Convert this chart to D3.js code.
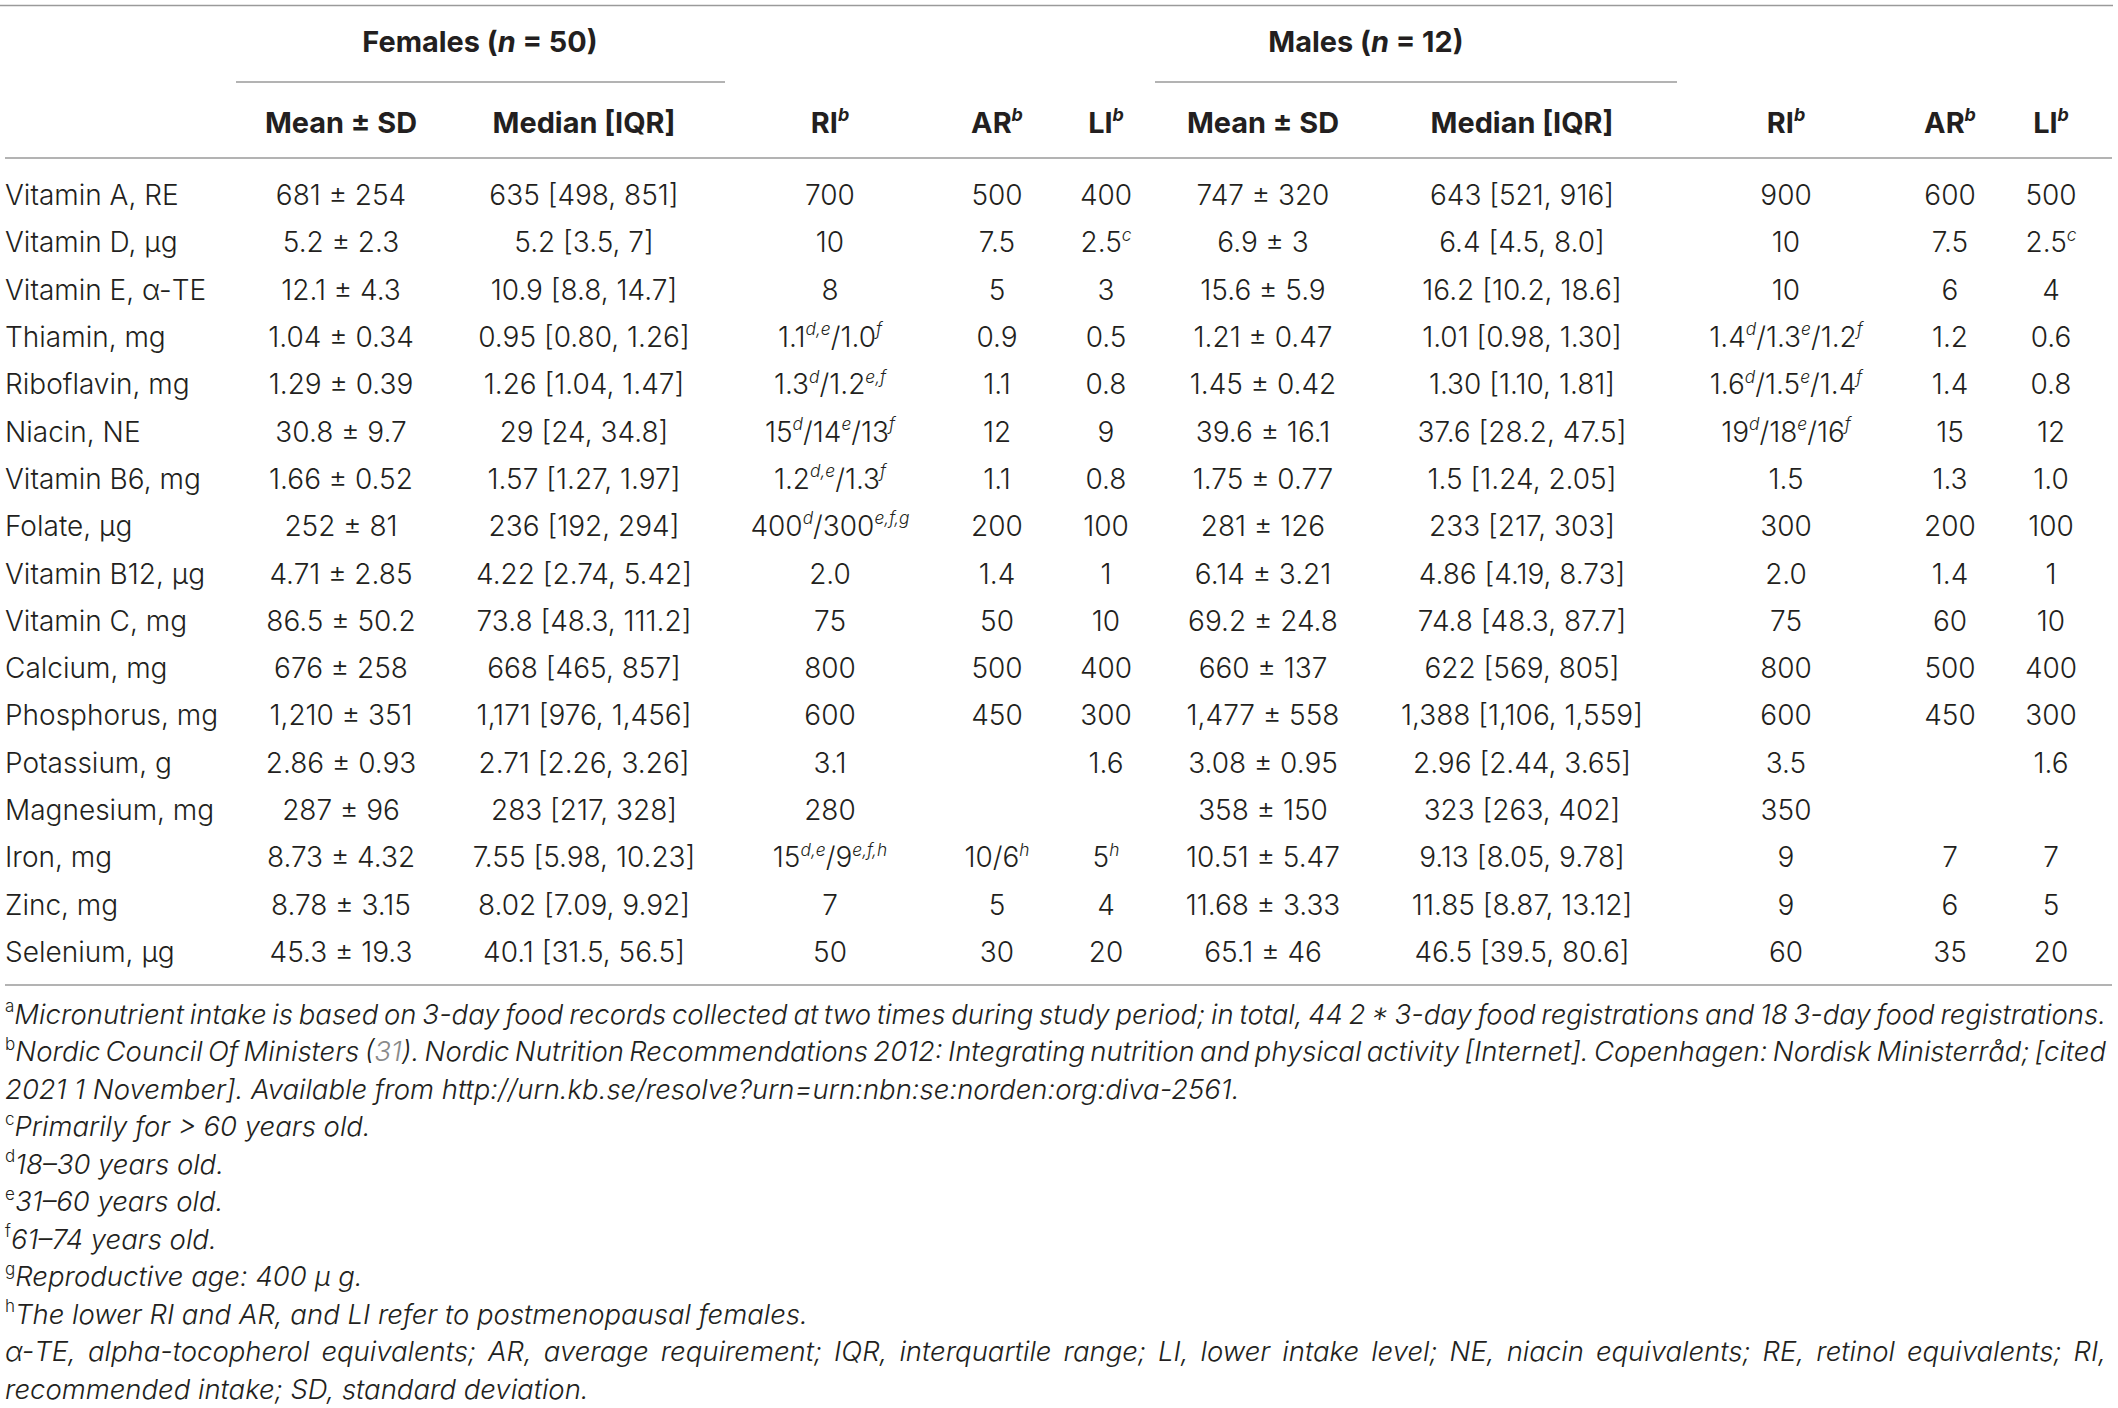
<!DOCTYPE html>
<html><head><meta charset="utf-8">
<script src="https://cdn.jsdelivr.net/npm/d3@7"></script>
<style>
html,body{margin:0;padding:0;background:#fff;}
svg{display:block;}
</style>
</head><body>
<svg id="chart" width="2118" height="1408"></svg>
<script>
// ---------- DATA ----------
const groups = ["Females (^n = 50)", "Males (^n = 12)"];
const columnHeaders = ["Mean ± SD", "Median [IQR]", "RI^{b}", "AR^{b}", "LI^{b}", "Mean ± SD", "Median [IQR]", "RI^{b}", "AR^{b}", "LI^{b}"];
const nutrients = ["Vitamin A, RE","Vitamin D, μg","Vitamin E, α-TE","Thiamin, mg","Riboflavin, mg","Niacin, NE","Vitamin B6, mg","Folate, μg","Vitamin B12, μg","Vitamin C, mg","Calcium, mg","Phosphorus, mg","Potassium, g","Magnesium, mg","Iron, mg","Zinc, mg","Selenium, μg"];
const femaleMean = ["681 ± 254","5.2 ± 2.3","12.1 ± 4.3","1.04 ± 0.34","1.29 ± 0.39","30.8 ± 9.7","1.66 ± 0.52","252 ± 81","4.71 ± 2.85","86.5 ± 50.2","676 ± 258","1,210 ± 351","2.86 ± 0.93","287 ± 96","8.73 ± 4.32","8.78 ± 3.15","45.3 ± 19.3"];
const femaleMedian = ["635 [498, 851]","5.2 [3.5, 7]","10.9 [8.8, 14.7]","0.95 [0.80, 1.26]","1.26 [1.04, 1.47]","29 [24, 34.8]","1.57 [1.27, 1.97]","236 [192, 294]","4.22 [2.74, 5.42]","73.8 [48.3, 111.2]","668 [465, 857]","1,171 [976, 1,456]","2.71 [2.26, 3.26]","283 [217, 328]","7.55 [5.98, 10.23]","8.02 [7.09, 9.92]","40.1 [31.5, 56.5]"];
const femaleRI = ["700","10","8","1.1^{d,e}/1.0^{f}","1.3^{d}/1.2^{e,f}","15^{d}/14^{e}/13^{f}","1.2^{d,e}/1.3^{f}","400^{d}/300^{e,f,g}","2.0","75","800","600","3.1","280","15^{d,e}/9^{e,f,h}","7","50"];
const femaleAR = ["500","7.5","5","0.9","1.1","12","1.1","200","1.4","50","500","450","","","10/6^{h}","5","30"];
const femaleLI = ["400","2.5^{c}","3","0.5","0.8","9","0.8","100","1","10","400","300","1.6","","5^{h}","4","20"];
const maleMean = ["747 ± 320","6.9 ± 3","15.6 ± 5.9","1.21 ± 0.47","1.45 ± 0.42","39.6 ± 16.1","1.75 ± 0.77","281 ± 126","6.14 ± 3.21","69.2 ± 24.8","660 ± 137","1,477 ± 558","3.08 ± 0.95","358 ± 150","10.51 ± 5.47","11.68 ± 3.33","65.1 ± 46"];
const maleMedian = ["643 [521, 916]","6.4 [4.5, 8.0]","16.2 [10.2, 18.6]","1.01 [0.98, 1.30]","1.30 [1.10, 1.81]","37.6 [28.2, 47.5]","1.5 [1.24, 2.05]","233 [217, 303]","4.86 [4.19, 8.73]","74.8 [48.3, 87.7]","622 [569, 805]","1,388 [1,106, 1,559]","2.96 [2.44, 3.65]","323 [263, 402]","9.13 [8.05, 9.78]","11.85 [8.87, 13.12]","46.5 [39.5, 80.6]"];
const maleRI = ["900","10","10","1.4^{d}/1.3^{e}/1.2^{f}","1.6^{d}/1.5^{e}/1.4^{f}","19^{d}/18^{e}/16^{f}","1.5","300","2.0","75","800","600","3.5","350","9","9","60"];
const maleAR = ["600","7.5","6","1.2","1.4","15","1.3","200","1.4","60","500","450","","","7","6","35"];
const maleLI = ["500","2.5^{c}","4","0.6","0.8","12","1.0","100","1","10","400","300","1.6","","7","5","20"];
const footMarks = ["a","b","","c","d","e","f","g","h","",""];
const footTexts = [
  "Micronutrient intake is based on 3-day food records collected at two times during study period; in total, 44 2 * 3-day food registrations and 18 3-day food registrations.",
  "Nordic Council Of Ministers (~{31}). Nordic Nutrition Recommendations 2012: Integrating nutrition and physical activity [Internet]. Copenhagen: Nordisk Ministerråd; [cited",
  "2021 1 November]. Available from http://urn.kb.se/resolve?urn=urn:nbn:se:norden:org:diva-2561.",
  "Primarily for > 60 years old.",
  "18–30 years old.",
  "31–60 years old.",
  "61–74 years old.",
  "Reproductive age: 400 μ g.",
  "The lower RI and AR, and LI refer to postmenopausal females.",
  "α-TE, alpha-tocopherol equivalents; AR, average requirement; IQR, interquartile range; LI, lower intake level; NE, niacin equivalents; RE, retinol equivalents; RI,",
  "recommended intake; SD, standard deviation."
];
const footJustify = [true,true,false,false,false,false,false,false,false,true,false];

// ---------- LAYOUT ----------
const W = 2118, H = 1408;
const FONT = "Inter, Roboto, 'Liberation Sans', Arial, sans-serif";
const INK = "#231f20";
const RULE = "#9a9a9a";
const bodySize = 28, footSize = 27.5, supScale = 0.62;

const columns = [femaleMean, femaleMedian, femaleRI, femaleAR, femaleLI, maleMean, maleMedian, maleRI, maleAR, maleLI];
const colIdx = d3.range(columns.length);
const xCol = d3.scaleOrdinal(colIdx, [341, 584, 830, 997, 1106, 1263, 1522, 1786, 1950, 2051]);
const y = d3.scaleBand(nutrients, [171.4, 975.5]);
const yFoot = d3.scalePoint(d3.range(footTexts.length), [1014, 1389]);
const groupSpan = [[236, 725], [1155, 1677]];
const groupLabelX = [480, 1366];

const svg = d3.select("#chart");
svg.append("rect").attr("width", W).attr("height", H).attr("fill", "#fff");

// rich text: ^{sup} italic superscript, ^x italic single char, ~{..} grey link
function rich(textSel, str, size, opts = {}) {
  const re = /\^\{([^}]*)\}|~\{([^}]*)\}|\^([A-Za-z])/g;
  let last = 0, m, raised = false;
  const add = (t, kind) => {
    if (!t) return;
    const ts = textSel.append("tspan").text(t);
    if (kind === "sup") {
      ts.attr("font-size", size * supScale).attr("font-style", opts.supUpright ? "normal" : "italic")
        .attr("dy", raised ? 0 : -size * 0.42);
      raised = true;
    } else {
      if (raised) { ts.attr("dy", size * 0.42); raised = false; }
      if (kind === "ital") ts.attr("font-style", "italic");
      if (kind === "link") ts.attr("fill", "#8a8a8a");
    }
  };
  while ((m = re.exec(str)) !== null) {
    add(str.slice(last, m.index), "norm");
    if (m[1] !== undefined) add(m[1], "sup");
    else if (m[2] !== undefined) add(m[2], "link");
    else add(m[3], "ital");
    last = re.lastIndex;
  }
  add(str.slice(last), "norm");
}

const g = svg.append("g").attr("font-family", FONT).attr("fill", INK);

// rules
const lines = [
  [0, W - 5, 5.5], [5, W - 6, 158], [5, W - 6, 985],
  [groupSpan[0][0], groupSpan[0][1], 82], [groupSpan[1][0], groupSpan[1][1], 82]
];
svg.selectAll("line.rule").data(lines).join("line").attr("class", "rule")
  .attr("x1", d => d[0]).attr("x2", d => d[1]).attr("y1", d => d[2]).attr("y2", d => d[2])
  .attr("stroke", RULE).attr("stroke-width", 1.6);

// header size fitted so "Median [IQR]" spans ~183px as in the reference
const probe = g.append("text").attr("font-weight", 700).attr("font-size", bodySize).text("Median [IQR]");
let headSize = bodySize * 183 / probe.node().getComputedTextLength();
headSize = Math.max(24, Math.min(31, headSize));
probe.remove();

// group headers
g.selectAll("text.grp").data(groups).join("text").attr("class", "grp")
  .attr("x", (d, i) => groupLabelX[i]).attr("y", 42 + bodySize * 0.36)
  .attr("text-anchor", "middle").attr("font-weight", 700).attr("font-size", headSize)
  .each(function (d) { rich(d3.select(this), d, headSize); });

// column headers
g.selectAll("text.colh").data(columnHeaders).join("text").attr("class", "colh")
  .attr("x", (d, i) => xCol(i)).attr("y", 123 + bodySize * 0.36)
  .attr("text-anchor", "middle").attr("font-weight", 700).attr("font-size", headSize)
  .each(function (d) { rich(d3.select(this), d, headSize); });

// row labels
g.selectAll("text.rowl").data(nutrients).join("text").attr("class", "rowl")
  .attr("x", 5).attr("y", d => y(d) + y.bandwidth() / 2 + bodySize * 0.36)
  .attr("font-size", bodySize).attr("font-weight", 300).text(d => d);

// cells
colIdx.forEach(ci => {
  g.append("g").selectAll("text").data(columns[ci]).join("text")
    .attr("x", xCol(ci))
    .attr("y", (d, ri) => y(nutrients[ri]) + y.bandwidth() / 2 + bodySize * 0.36)
    .attr("text-anchor", "middle").attr("font-size", bodySize).attr("font-weight", 300)
    .each(function (d) { rich(d3.select(this), d, bodySize); });
});

// footnotes
const ft = g.selectAll("text.foot").data(footTexts).join("text").attr("class", "foot")
  .attr("x", 5).attr("y", (d, i) => yFoot(i) + footSize * 0.36)
  .attr("font-size", footSize).attr("font-weight", 300)
  .each(function (d, i) {
    const t = d3.select(this);
    if (footMarks[i]) rich(t, "^{" + footMarks[i] + "}", footSize, { supUpright: true });
    const body = t.append("tspan").attr("font-style", "italic");
    if (footMarks[i]) body.attr("dy", footSize * 0.42);
    rich(body, d, footSize);
  });
// justify full-width lines by word spacing
ft.each(function (d, i) {
  if (!footJustify[i]) return;
  const target = 2101;
  const w = this.getComputedTextLength();
  const spaces = (d.match(/ /g) || []).length;
  d3.select(this).attr("word-spacing", (target - w) / spaces);
});
</script>
</body></html>
